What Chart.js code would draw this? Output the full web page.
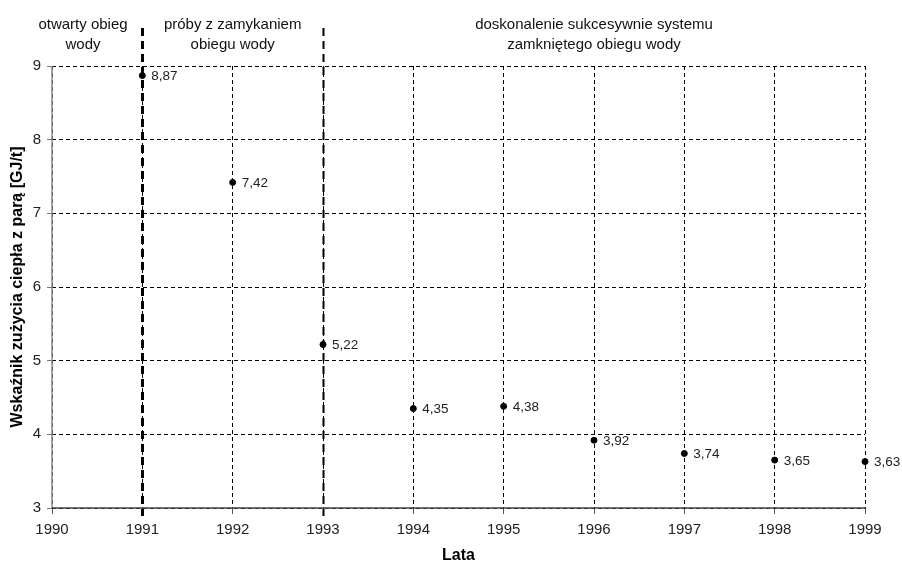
<!DOCTYPE html>
<html><head><meta charset="utf-8">
<script src="https://cdn.jsdelivr.net/npm/chart.js@4"></script>
<style>html,body{margin:0;padding:0;background:#fff}#wrap{width:902px;height:565px}</style>
</head><body><div id="wrap"><canvas id="c" width="902" height="565"></canvas></div>
<script>
const years = [1991, 1992, 1993, 1994, 1995, 1996, 1997, 1998, 1999];
const values = [8.87, 7.42, 5.22, 4.35, 4.38, 3.92, 3.74, 3.65, 3.63];
const valueLabels = ['8,87', '7,42', '5,22', '4,35', '4,38', '3,92', '3,74', '3,65', '3,63'];
const xRange = [1990, 1999];
const yRange = [3, 9];
const phaseBoundaries = [1991, 1993];
const phaseTexts = [
  {from: 1990, to: 1991, lines: ['otwarty obieg', 'wody']},
  {from: 1991, to: 1993, lines: ['próby z zamykaniem', 'obiegu wody']},
  {from: 1993, to: 1999, lines: ['doskonalenie sukcesywnie systemu', 'zamkniętego obiegu wody']}
];
const xTitle = 'Lata';
const yTitle = 'Wskaźnik zużycia ciepła z parą [GJ/t]';

const FONT = 'Liberation Sans, Arial, sans-serif';

const overlay = {
  id: 'overlay',
  afterDatasetsDraw(chart) {
    const ctx = chart.ctx, xs = chart.scales.x, ys = chart.scales.y;
    ctx.save();
    // solid axis lines
    ctx.setLineDash([]);
    ctx.lineWidth = 1.5;
    ctx.strokeStyle = '#888';
    ctx.beginPath(); ctx.moveTo(ys.right, ys.top); ctx.lineTo(ys.right, ys.bottom); ctx.stroke();
    ctx.strokeStyle = '#444';
    ctx.beginPath(); ctx.moveTo(xs.left, xs.top); ctx.lineTo(xs.right, xs.top); ctx.stroke();
    // phase boundary lines
    phaseBoundaries.forEach((b, i) => {
      const px = Math.round(xs.getPixelForValue(b)) + 0.5;
      ctx.beginPath();
      ctx.setLineDash([8, 5]);
      ctx.lineWidth = i === 0 ? 3 : 2;
      ctx.strokeStyle = '#000';
      ctx.moveTo(px, 28);
      ctx.lineTo(px, ys.bottom + 8);
      ctx.stroke();
    });
    ctx.setLineDash([]);
    // phase texts
    ctx.fillStyle = '#111';
    ctx.font = '15px ' + FONT;
    ctx.textAlign = 'center';
    ctx.textBaseline = 'middle';
    phaseTexts.forEach(p => {
      let cx = (xs.getPixelForValue(p.from) + xs.getPixelForValue(p.to)) / 2;
      if (p.from === 1990) cx = 83;
      p.lines.forEach((l, k) => ctx.fillText(l, cx, 25 + k * 20));
    });
    // value labels
    ctx.textAlign = 'left';
    ctx.fillStyle = '#222';
    ctx.font = '13.5px ' + FONT;
    const meta = chart.getDatasetMeta(0);
    meta.data.forEach((pt, i) => {
      ctx.fillText(valueLabels[i], pt.x + 9, pt.y + 1);
    });
    ctx.restore();
  }
};

new Chart(document.getElementById('c'), {
  type: 'scatter',
  data: {
    datasets: [{
      data: years.map((y, i) => ({x: y, y: values[i]})),
      backgroundColor: '#000',
      borderColor: '#000',
      pointRadius: 3,
      pointHoverRadius: 3,
      showLine: false,
      clip: false
    }]
  },
  options: {
    responsive: false,
    animation: false,
    devicePixelRatio: 1,
    layout: {padding: {top: 66, right: 37, left: 0, bottom: 0}},
    plugins: {legend: {display: false}, tooltip: {enabled: false}},
    scales: {
      x: {
        type: 'linear', min: xRange[0], max: xRange[1],
        afterFit(s) { s.height = 57; },
        ticks: {stepSize: 1, callback: v => String(v), color: '#222', font: {family: FONT, size: 15}, padding: 7, maxRotation: 0},
        grid: {color: '#000', lineWidth: 1, tickLength: 6, tickColor: '#555', tickBorderDash: []},
        border: {display: false, dash: [4, 3]},
        title: {display: true, text: xTitle, color: '#000', font: {family: FONT, size: 16, weight: 'bold'}, padding: {top: 0, bottom: 0}}
      },
      y: {
        type: 'linear', min: yRange[0], max: yRange[1],
        afterFit(s) { s.width = 52; },
        ticks: {stepSize: 1, color: '#222', font: {family: FONT, size: 15}, padding: 6},
        grid: {color: '#000', lineWidth: 1, tickLength: 5, tickColor: '#777', tickBorderDash: []},
        border: {display: false, dash: [4, 3]},
        title: {display: true, text: yTitle, color: '#000', font: {family: FONT, size: 16, weight: 'bold'}, padding: {top: 8, bottom: 0}}
      }
    }
  },
  plugins: [overlay]
});
</script>
</body></html>
